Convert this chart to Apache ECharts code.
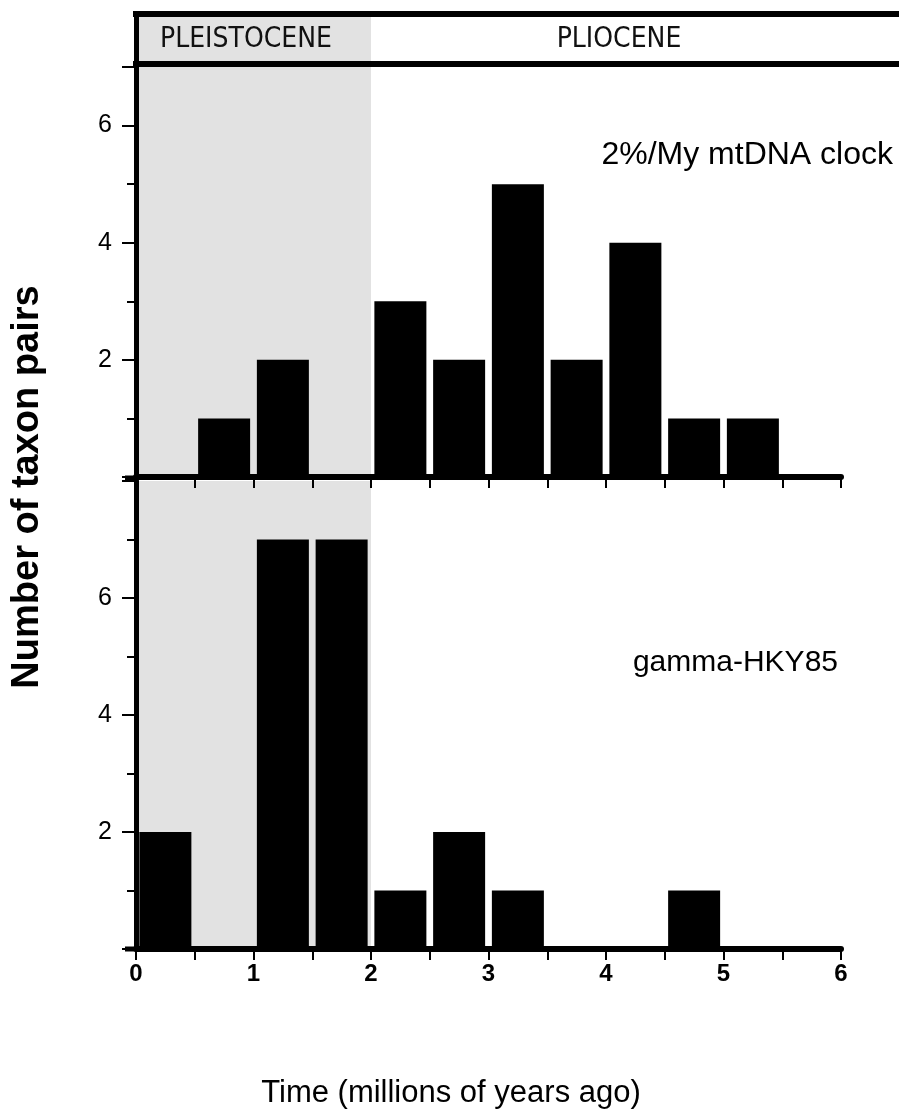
<!DOCTYPE html>
<html>
<head>
<meta charset="utf-8">
<script src="https://cdn.jsdelivr.net/npm/echarts@6/dist/echarts.min.js"></script>
<style>
  html, body { margin: 0; padding: 0; background: #fff; }
  #main { width: 899px; height: 1118px; }
</style>
</head>
<body>
<div id="main"></div>
<script>
// bin centres, 0.5 My wide bins
var binCentres = [0.25, 0.75, 1.25, 1.75, 2.25, 2.75, 3.25, 3.75, 4.25, 4.75, 5.25, 5.75];
var clockCounts = [0, 1, 2, 0, 3, 2, 5, 2, 4, 1, 1, 0];   // 2%/My mtDNA clock
var hkyCounts = [2, 0, 7, 7, 1, 2, 1, 0, 0, 1, 0, 0];     // gamma-HKY85
var epochs = ['PLEISTOCENE', 'PLIOCENE'];
var pleistoceneRange = [0, 2];

function pairs(vals) {
  var out = [];
  for (var i = 0; i < vals.length; i++) {
    if (vals[i] > 0) out.push([binCentres[i], vals[i]]);
  }
  return out;
}

var chart = echarts.init(document.getElementById('main'));
var FONT = 'Liberation Sans';
var GREY = '#e2e2e2';

var grids = [
  { left: 136, width: 705, top: 14, height: 50 },   // epoch header
  { left: 136, width: 705, top: 67, height: 410 },  // clock
  { left: 136, width: 705, top: 481, height: 468 }  // HKY
];

function xAx(idx, labels) {
  return {
    type: 'value', gridIndex: idx, min: 0, max: 6, interval: 0.5,
    show: idx > 0, z: 5,
    axisLine: { show: true, onZero: false, lineStyle: { color: '#000', width: 6 } },
    axisTick: { show: true, length: 11, lineStyle: { color: '#000', width: 2 } },
    splitLine: { show: false },
    axisLabel: {
      show: labels, margin: 13,
      formatter: function (v) { return v % 1 === 0 ? '{t|' + v + '}' : ''; },
      rich: { t: { color: '#000', fontFamily: FONT, fontWeight: 'bold', fontSize: 24 } }
    }
  };
}

function yAx(idx, max) {
  return {
    type: 'value', gridIndex: idx, min: 0, max: max, interval: 2, z: 5,
    axisLine: { show: true, lineStyle: { color: '#000', width: 5 } },
    axisTick: { show: true, length: 14, lineStyle: { color: '#000', width: 2 } },
    minorTick: { show: true, splitNumber: 2, length: 9, lineStyle: { color: '#000', width: 2 } },
    splitLine: { show: false },
    minorSplitLine: { show: false },
    axisLabel: {
      show: true, margin: 24,
      formatter: function (v) { return (v > 0 && v < max && v % 2 === 0) ? '{t|' + v + '}' : ''; },
      rich: { t: { color: '#000', fontFamily: FONT, fontSize: 25 } }
    }
  };
}

function shade() {
  return {
    silent: true,
    itemStyle: { color: GREY },
    data: [[{ xAxis: pleistoceneRange[0] }, { xAxis: pleistoceneRange[1] }]]
  };
}

chart.setOption({
  animation: false,
  backgroundColor: '#fff',
  grid: grids,
  xAxis: [xAx(0, false), xAx(1, false), xAx(2, true)],
  yAxis: [
    { type: 'value', gridIndex: 0, min: 0, max: 1, z: 5,
      axisLine: { show: true, lineStyle: { color: '#000', width: 5 } },
      axisTick: { show: false }, axisLabel: { show: false }, splitLine: { show: false } },
    yAx(1, 7), yAx(2, 8)
  ],
  series: [
    { type: 'bar', xAxisIndex: 0, yAxisIndex: 0, data: [], markArea: shade() },
    { type: 'bar', xAxisIndex: 1, yAxisIndex: 1, data: pairs(clockCounts), barWidth: 52,
      itemStyle: { color: '#000' }, markArea: shade() },
    { type: 'bar', xAxisIndex: 2, yAxisIndex: 2, data: pairs(hkyCounts), barWidth: 52,
      itemStyle: { color: '#000' }, markArea: shade() }
  ],
  graphic: [
    { type: 'line', shape: { x1: 133, y1: 14, x2: 899, y2: 14 }, style: { stroke: '#000', lineWidth: 6 }, z: 10 },
    { type: 'line', shape: { x1: 133, y1: 64, x2: 899, y2: 64 }, style: { stroke: '#000', lineWidth: 6 }, z: 10 },
    { type: 'line', shape: { x1: 125, y1: 478, x2: 136, y2: 478 }, style: { stroke: '#000', lineWidth: 5 }, z: 10 },
    { type: 'line', shape: { x1: 125, y1: 949, x2: 136, y2: 949 }, style: { stroke: '#000', lineWidth: 5 }, z: 10 },
    { type: 'text', x: 246, y: 40, z: 10, style: { text: epochs[0], fill: '#111', font: '28px "DejaVu Sans Condensed", sans-serif', align: 'center', verticalAlign: 'middle' } },
    { type: 'text', x: 619, y: 40, z: 10, style: { text: epochs[1], fill: '#111', font: '28px "DejaVu Sans Condensed", sans-serif', align: 'center', verticalAlign: 'middle' } },
    { type: 'text', x: 893, y: 155, z: 10, style: { text: '2%/My mtDNA clock', fill: '#000', font: '32px "Liberation Sans"', align: 'right', verticalAlign: 'middle' } },
    { type: 'text', x: 838, y: 663, z: 10, style: { text: 'gamma-HKY85', fill: '#000', font: '30px "Liberation Sans"', align: 'right', verticalAlign: 'middle' } },
    { type: 'text', x: 28, y: 487, rotation: Math.PI / 2, z: 10, style: { text: 'Number of taxon pairs', fill: '#000', font: 'bold 38px "Liberation Sans"', align: 'center', verticalAlign: 'middle' } },
    { type: 'text', x: 451, y: 1093, z: 10, style: { text: 'Time (millions of years ago)', fill: '#000', font: '31px "Liberation Sans"', align: 'center', verticalAlign: 'middle' } }
  ]
});
</script>
</body>
</html>
